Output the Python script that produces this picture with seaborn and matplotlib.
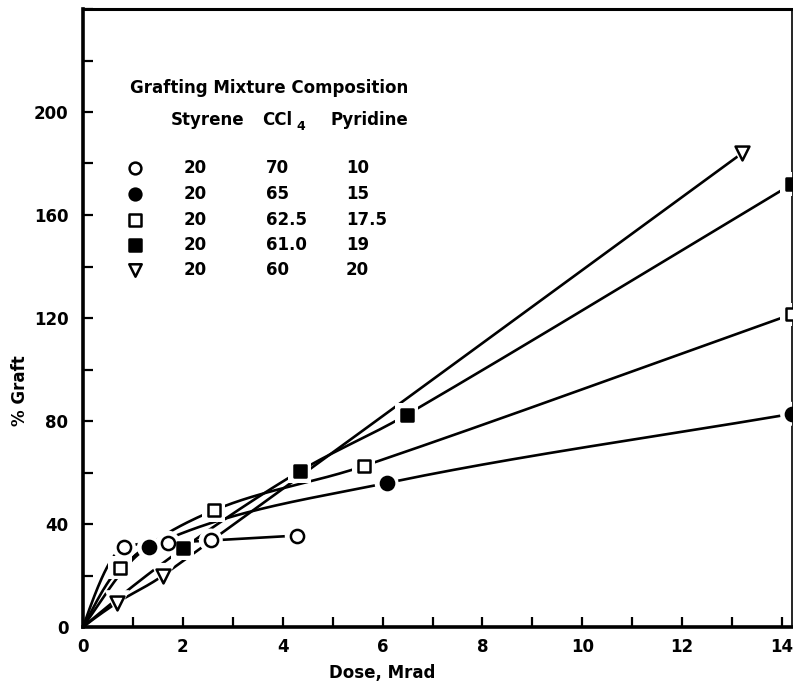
import numpy as np
import pandas as pd
import matplotlib
matplotlib.use("Agg")
import matplotlib.pyplot as plt
import seaborn as sns

# Measured grafting yields (% graft) against radiation dose (Mrad)
dose_a = [0.82, 1.70, 2.56, 4.28]          # 20 / 70 / 10
graft_a = [30.9, 32.8, 33.6, 35.5]
dose_b = [1.32, 6.08, 14.2]                # 20 / 65 / 15
graft_b = [30.9, 55.9, 82.8]
dose_c = [0.74, 2.62, 5.62, 14.2]          # 20 / 62.5 / 17.5
graft_c = [23.0, 45.3, 62.5, 121.5]
dose_d = [2.00, 4.34, 6.48, 14.2]          # 20 / 61.0 / 19
graft_d = [30.5, 60.5, 82.4, 172.0]
dose_e = [0.68, 1.60, 13.2]                # 20 / 60 / 20
graft_e = [9.4, 20.0, 184.0]

styrene = ["20", "20", "20", "20", "20"]
ccl4 = ["70", "65", "62.5", "61.0", "60"]
pyridine = ["10", "15", "17.5", "19", "20"]

x_ticks = list(range(0, 15))
x_tick_labels = [str(v) if v % 2 == 0 else "" for v in x_ticks]
y_ticks = list(range(0, 241, 20))
y_tick_labels = [str(v) if v % 40 == 0 and v <= 200 else "" for v in y_ticks]

sns.set_style("ticks")
plt.rcParams["font.family"] = ["DejaVu Sans"]
plt.rcParams["font.weight"] = "bold"
for key in ["text.color", "axes.labelcolor", "xtick.color", "ytick.color", "axes.edgecolor"]:
    plt.rcParams[key] = "black"

FS = 12


def smooth_through(x, y, n=300):
    """Monotone cubic through the points (hand-drawn French-curve look)."""
    x = np.asarray(x, float)
    y = np.asarray(y, float)
    h = np.diff(x)
    d = np.diff(y) / h
    m = np.zeros_like(x)
    for k in range(1, len(x) - 1):
        if d[k - 1] * d[k] <= 0:
            m[k] = 0.0
        else:
            # lean towards the longer neighbouring segment
            m[k] = (h[k - 1] * d[k - 1] + h[k] * d[k]) / (h[k - 1] + h[k])
    # steep start at the origin, straight run into the last point
    s0 = ((2 * h[0] + h[1]) * d[0] - h[0] * d[1]) / (h[0] + h[1])
    m[0] = min(max(s0, d[0]), 3 * d[0])
    m[-1] = d[-1]
    # Fritsch-Carlson limiter keeps each piece monotone
    for k in range(len(h)):
        if d[k] == 0:
            m[k] = m[k + 1] = 0.0
            continue
        a, b = m[k] / d[k], m[k + 1] / d[k]
        r = a * a + b * b
        if r > 9:
            tau = 3 / np.sqrt(r)
            m[k] = tau * a * d[k]
            m[k + 1] = tau * b * d[k]
    xs = np.linspace(x[0], x[-1], n)
    idx = np.clip(np.searchsorted(x, xs) - 1, 0, len(x) - 2)
    t = (xs - x[idx]) / h[idx]
    h00 = 2 * t**3 - 3 * t**2 + 1
    h10 = t**3 - 2 * t**2 + t
    h01 = -2 * t**3 + 3 * t**2
    h11 = t**3 - t**2
    ys = h00 * y[idx] + h10 * h[idx] * m[idx] + h01 * y[idx + 1] + h11 * h[idx] * m[idx + 1]
    return xs, ys


series = [
    ("a", dose_a, graft_a, "o", "white"),
    ("b", dose_b, graft_b, "o", "black"),
    ("c", dose_c, graft_c, "s", "white"),
    ("d", dose_d, graft_d, "s", "black"),
    ("e", dose_e, graft_e, "v", "white"),
]

curves = []
for name, xd, yd, _, _ in series:
    xs, ys = smooth_through([0.0] + list(xd), [0.0] + list(yd))
    curves.append(pd.DataFrame({"dose": xs, "graft": ys, "series": name}))
curve_df = pd.concat(curves, ignore_index=True)

fig = plt.figure(figsize=(7.93, 6.84), dpi=100)
ax = fig.add_axes([83 / 793, 1 - 627 / 684, (792 - 83) / 793, (627 - 9) / 684])

sns.lineplot(data=curve_df, x="dose", y="graft", units="series", estimator=None,
             color="black", linewidth=1.9, ax=ax, zorder=2, legend=False)

sizes = {"o": 90, "s": 85, "v": 100}
for name, xd, yd, mk, fc in series:
    # white halo so the lines stop short of each symbol
    sns.scatterplot(x=xd, y=yd, marker=mk, s=sizes[mk] * 3.3, color="white",
                    edgecolor="none", linewidth=0, ax=ax, zorder=3, legend=False)
for name, xd, yd, mk, fc in series:
    sns.scatterplot(x=xd, y=yd, marker=mk, s=sizes[mk], facecolor=fc,
                    edgecolor="black", linewidth=1.8, ax=ax, zorder=4, legend=False)

ax.set_xlim(0, 14.2)
ax.set_ylim(0, 240)
ax.set_xticks(x_ticks)
ax.set_xticklabels(x_tick_labels, fontsize=FS, fontweight="bold")
ax.set_yticks(y_ticks)
ax.set_yticklabels(y_tick_labels, fontsize=FS, fontweight="bold")
ax.tick_params(axis="both", direction="in", length=7, width=1.6, color="black")
ax.tick_params(axis="x", pad=8)
ax.tick_params(axis="y", pad=10.5)

for side, lw in [("left", 2.6), ("bottom", 2.6), ("top", 2.2), ("right", 1.2)]:
    ax.spines[side].set_linewidth(lw)
    ax.spines[side].set_color("black")

ax.set_xlabel("Dose, Mrad", fontsize=FS, fontweight="bold")
ax.xaxis.set_label_coords(6.0 / 14.2, -0.06)
ax.set_ylabel("% Graft", fontsize=FS, fontweight="bold")
ax.yaxis.set_label_coords(-0.076, 0.383)


# Composition key drawn as a small table inside the plot
def fx(px):
    return (px - 83) / 709


def fy(py):
    return (627 - py) / 618


tkw = dict(transform=ax.transAxes, fontsize=FS, fontweight="bold", va="center", ha="left")
ax.text(fx(130), fy(88), "Grafting Mixture Composition", **tkw)
ax.text(fx(171), fy(120), "Styrene", **tkw)
ax.text(fx(262), fy(120), "CCl", **tkw)
ax.text(fx(296), fy(126), "4", transform=ax.transAxes, fontsize=FS - 3,
        fontweight="bold", va="center", ha="left")
ax.text(fx(330), fy(120), "Pyridine", **tkw)

row_y = [168, 194, 220, 245, 270]
for (name, _, _, mk, fc), py, s1, s2, s3 in zip(series, row_y, styrene, ccl4, pyridine):
    ax.scatter([fx(135)], [fy(py)], marker=mk, s=sizes[mk] * 0.8, facecolor=fc,
               edgecolor="black", linewidth=1.8, transform=ax.transAxes, clip_on=False, zorder=5)
    ax.text(fx(184), fy(py), s1, **tkw)
    ax.text(fx(266), fy(py), s2, **tkw)
    ax.text(fx(346), fy(py), s3, **tkw)

fig.savefig("out.png", dpi=100)
